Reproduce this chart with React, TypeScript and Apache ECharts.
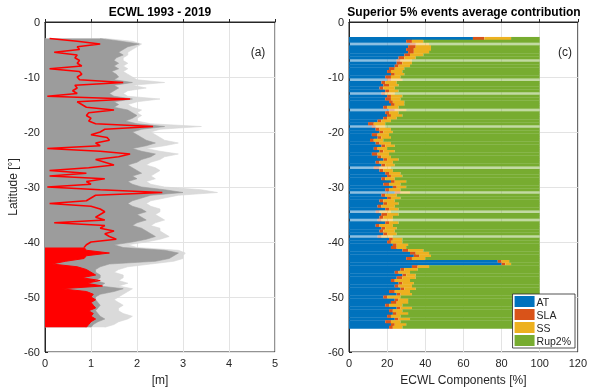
import React, { useEffect, useRef } from "react";
import * as echarts from "echarts";

// Latitude grid of the samples (degrees), from -3 down to -55.5
const LAT_START = -3;
const LAT_STEP = -0.5;
const SAMPLE_COUNT = 106;
const latitudes: number[] = Array.from({ length: SAMPLE_COUNT }, (_, k) => LAT_START + LAT_STEP * k);

// ECWL extremes [m] (light gray tails)
const ecwlTail = [
  1.3, 1.9, 2.1, 2.0, 1.9, 1.8, 1.8, 1.7, 1.7, 1.8,
  1.7, 1.8, 1.7, 1.8, 1.9, 2.0, 2.6, 1.9, 2.2, 1.8,
  1.7, 1.8, 2.5, 2.0, 1.8, 1.9, 2.1, 2.0, 2.1, 2.0,
  2.0, 2.3, 3.4, 2.5, 2.3, 2.4, 2.5, 2.6, 2.9, 2.6,
  2.2, 2.5, 2.9, 2.6, 2.5, 2.3, 2.2, 2.4, 2.5, 2.4,
  2.3, 2.4, 2.2, 2.3, 2.6, 3.4, 3.75, 2.9, 2.6, 2.3,
  2.2, 2.3, 2.5, 2.5, 2.4, 2.5, 2.6, 2.4, 2.3, 2.5,
  2.5, 2.6, 2.7, 2.5, 2.2, 1.8, 2.0, 2.9, 3.05, 3.0,
  3.0, 2.8, 2.3, 1.8, 1.6, 1.5, 1.7, 1.7, 1.6, 1.8,
  1.6, 1.9, 1.8, 1.7, 1.6, 1.5, 1.6, 1.7, 1.6, 1.6,
  1.7, 1.9, 1.8, 1.6, 1.5, 1.3,
];

// ECWL main envelope [m] (dark gray)
const ecwlMax = [
  1.2, 1.65, 2.05, 1.8, 1.7, 1.6, 1.7, 1.55, 1.5, 1.6,
  1.5, 1.6, 1.45, 1.55, 1.6, 1.5, 1.9, 1.5, 1.6, 1.5,
  1.4, 1.5, 1.9, 1.5, 1.6, 1.5, 1.8, 1.9, 2.0, 1.9,
  1.75, 2.0, 2.6, 2.1, 1.9, 2.0, 2.1, 2.2, 2.4, 2.2,
  1.9, 2.1, 2.4, 2.3, 2.1, 2.0, 1.8, 1.9, 2.0, 2.1,
  1.9, 2.0, 1.8, 1.9, 2.1, 2.6, 3.0, 2.3, 2.1, 1.9,
  1.8, 1.9, 2.1, 2.2, 2.0, 2.1, 2.2, 2.0, 1.9, 2.1,
  2.2, 2.3, 2.4, 2.2, 1.9, 1.5, 1.7, 2.6, 2.9, 2.8,
  2.7, 2.4, 1.4, 1.2, 1.1, 1.1, 1.2, 1.2, 1.1, 1.3,
  1.2, 1.7, 1.5, 1.2, 1.1, 1.1, 1.15, 1.2, 1.15, 1.1,
  1.15, 1.2, 1.3, 1.15, 1.05, 1.0,
];

// ECWL mean [m] (red)
const ecwlMean = [
  0.1, 0.7, 1.2, 0.7, 0.75, 0.2, 0.7, 0.65, 0.75, 0.7,
  0.8, 0.1, 0.75, 0.8, 0.7, 0.75, 1.7, 0.65, 0.7, 0.6,
  0.7, 0.05, 1.85, 0.7, 0.8, 0.9, 1.5, 0.95, 0.9, 1.0,
  0.95, 1.1, 2.35, 1.3, 1.2, 1.0, 1.35, 1.4, 1.1, 1.2,
  0.05, 1.2, 1.85, 1.6, 1.1, 1.3, 1.5, 0.95, 0.1, 0.9,
  0.1, 1.3, 0.9, 1.0, 0.05, 1.2, 2.55, 1.1, 1.0, 0.9,
  0.1, 1.0, 1.2, 1.3, 1.2, 1.1, 1.3, 0.2, 1.3, 1.2,
  1.5, 1.3, 1.4, 1.55, 1.0, 0.9, 0.85, 0.9, 1.4, 0.9,
  0.85, 0.45, 0.15, 0.7, 0.9, 1.0, 1.1, 0.8, 1.2, 0.9,
  1.25, 0.35, 0.9, 1.05, 1.0, 1.1, 1.0, 1.05, 1.1, 0.95,
  1.05, 1.0, 1.1, 1.0, 0.95, 0.9,
];
const RED_FILL_FROM_LAT = -41;

// Contributions [%]
const contribAT = [
  65, 30, 32, 31, 30, 31, 29, 26, 25, 25,
  24, 21, 20, 22, 19, 20, 17, 18, 16, 19,
  17, 20, 19, 21, 22, 18, 21, 19, 20, 18,
  15, 10, 12, 14, 16, 12, 15, 11, 14, 17,
  13, 16, 12, 15, 18, 14, 17, 13, 16, 19,
  20, 17, 22, 18, 23, 19, 24, 17, 20, 16,
  18, 15, 19, 14, 17, 16, 15, 19, 14, 17,
  16, 18, 15, 21, 20, 23, 22, 28, 32, 34,
  30, 78, 80, 33, 27, 24, 28, 25, 22, 26,
  24, 27, 21, 25, 18, 24, 22, 19, 25, 21,
  23, 20, 24, 19, 22, 21,
];
const contribSLA = [
  6, 3, 3, 4, 4, 3, 3, 3, 2, 3,
  2, 3, 2, 2, 3, 2, 2, 3, 2, 2,
  2, 2, 3, 2, 2, 2, 3, 2, 2, 2,
  2, 3, 2, 2, 2, 3, 2, 2, 2, 2,
  2, 2, 3, 2, 2, 2, 2, 3, 2, 2,
  2, 2, 2, 3, 2, 2, 3, 2, 2, 2,
  2, 2, 2, 2, 3, 2, 2, 2, 2, 2,
  2, 2, 2, 2, 2, 2, 3, 3, 3, 3,
  3, 2, 2, 3, 2, 2, 2, 3, 2, 2,
  2, 2, 3, 2, 2, 2, 3, 2, 2, 2,
  2, 2, 2, 3, 2, 2,
];
const contribSS = [
  14, 6, 7, 8, 9, 8, 7, 6, 6, 5,
  6, 5, 6, 5, 5, 6, 6, 5, 6, 5,
  5, 6, 5, 6, 5, 6, 6, 5, 6, 5,
  5, 6, 5, 6, 5, 6, 5, 5, 6, 5,
  5, 6, 6, 5, 6, 7, 5, 6, 5, 6,
  6, 5, 6, 6, 5, 6, 5, 6, 5, 6,
  6, 7, 5, 6, 6, 5, 6, 5, 7, 6,
  6, 5, 6, 5, 6, 6, 5, 8, 7, 6,
  7, 4, 3, 6, 7, 6, 5, 7, 8, 6,
  7, 6, 8, 6, 7, 5, 6, 7, 6, 5,
  6, 5, 6, 5, 6, 5,
];
const contribRup = [
  15, 61, 58, 57, 57, 58, 61, 65, 67, 67,
  68, 71, 72, 71, 73, 72, 75, 74, 76, 74,
  76, 72, 73, 71, 71, 74, 70, 74, 72, 75,
  78, 81, 81, 78, 77, 79, 78, 82, 78, 76,
  80, 76, 79, 78, 74, 77, 76, 78, 77, 73,
  72, 76, 70, 73, 70, 73, 68, 75, 73, 76,
  74, 76, 74, 78, 74, 77, 77, 74, 77, 75,
  76, 75, 77, 72, 72, 69, 70, 61, 58, 57,
  60, 16, 15, 58, 64, 68, 65, 65, 68, 66,
  67, 65, 68, 67, 73, 69, 69, 72, 67, 72,
  69, 73, 68, 73, 70, 72,
];
// Latitudes drawn as pale rows in the contribution panel
const paleRows = [-4, -7, -10.5, -13, -16, -19, -26.5, -31, -34.5, -36, -39];

const FONT = "'Liberation Sans', Arial, Helvetica, sans-serif";
const TXT = "#262626";

// hidden latitude category scale, -60 .. 0 in 0.5 steps (bottom to top)
const CAT_MIN = -60;
const CAT_COUNT = 121;
const latCats = Array.from({ length: CAT_COUNT }, (_, i) => String(CAT_MIN + 0.5 * i));
const catIndex = (lat: number) => Math.round((lat - CAT_MIN) / 0.5);

function place(values: number[], keep?: (lat: number) => boolean, pale = false) {
  const out: any[] = new Array(CAT_COUNT).fill(null);
  latitudes.forEach((lat, k) => {
    if (keep && !keep(lat)) return;
    const v = values[k];
    if (pale && paleRows.some((p) => Math.abs(p - lat) < 1e-6)) {
      out[catIndex(lat)] = { value: v, itemStyle: { opacity: 0.45 } };
    } else {
      out[catIndex(lat)] = v;
    }
  });
  return out;
}

export default function App() {
  const ref = useRef<HTMLDivElement>(null);
  useEffect(() => {
    if (!ref.current) return;
    const chart = echarts.init(ref.current, undefined, { renderer: "svg" });
    const axisLabel = { color: TXT, fontSize: 11, fontFamily: FONT };
    const axisLine = { show: true, lineStyle: { color: TXT, width: 1 } };
    const splitLine = { show: true, lineStyle: { color: "#e3e3e3", width: 1 } };
    const axisTick = { show: true, inside: true, length: 3, lineStyle: { color: TXT } };
    const nameStyle = { color: TXT, fontSize: 12, fontFamily: FONT };
    const barCommon = {
      type: "bar" as const,
      stack: "contrib",
      xAxisIndex: 1,
      yAxisIndex: 2,
      barWidth: 3.1,
      barCategoryGap: "0%",
    };
    chart.setOption({
      animation: false,
      grid: [
        { left: 45, right: 315, top: 22, bottom: 38, show: true, borderColor: TXT, borderWidth: 1, backgroundColor: "transparent" },
        { left: 349, right: 11, top: 22, bottom: 38, show: true, borderColor: TXT, borderWidth: 1, backgroundColor: "transparent" },
      ],
      xAxis: [
        {
          gridIndex: 0, type: "value", min: 0, max: 5, interval: 1, position: "bottom",
          name: "[m]", nameLocation: "middle", nameGap: 22, nameTextStyle: nameStyle,
          axisLabel: { ...axisLabel, margin: 5 }, axisLine, splitLine, axisTick,
        },
        {
          gridIndex: 1, type: "value", min: 0, max: 120, interval: 20, position: "bottom",
          name: "ECWL Components [%]", nameLocation: "middle", nameGap: 22, nameTextStyle: nameStyle,
          axisLabel: { ...axisLabel, margin: 5 }, axisLine, splitLine, axisTick,
        },
      ],
      yAxis: [
        { gridIndex: 0, type: "category", data: latCats, boundaryGap: false, show: false, position: "right" },
        {
          gridIndex: 0, type: "value", min: -60, max: 0, interval: 10, position: "left",
          name: "Latitude [°]", nameLocation: "middle", nameGap: 26, nameTextStyle: nameStyle,
          axisLabel: { ...axisLabel, margin: 5 }, axisLine, splitLine, axisTick,
        },
        { gridIndex: 1, type: "category", data: latCats, boundaryGap: false, show: false, position: "right" },
        {
          gridIndex: 1, type: "value", min: -60, max: 0, interval: 10, position: "left",
          axisLabel: { ...axisLabel, margin: 5 }, axisLine, splitLine, axisTick,
        },
      ],
      legend: {
        data: ["AT", "SLA", "SS", "Rup2%"],
        orient: "vertical",
        right: 15,
        bottom: 43,
        icon: "rect",
        itemWidth: 20,
        itemHeight: 11,
        itemGap: 2,
        padding: [2, 4, 2, 2],
        borderColor: TXT,
        borderWidth: 0.8,
        borderRadius: 0,
        backgroundColor: "#ffffff",
        selectedMode: false,
        textStyle: { color: TXT, fontSize: 10.5, fontFamily: FONT, padding: [0, 0, 0, -3] },
      },
      graphic: [
        { type: "text", x: 160, y: 12, style: { text: "ECWL 1993 - 2019", font: `bold 12px ${FONT}`, fill: "#000", textAlign: "center", textVerticalAlign: "middle" } },
        { type: "text", x: 464, y: 12, style: { text: "Superior 5% events average contribution", font: `bold 12px ${FONT}`, fill: "#000", textAlign: "center", textVerticalAlign: "middle" } },
        { type: "text", x: 258, y: 52, style: { text: "(a)", font: `12px ${FONT}`, fill: TXT, textAlign: "center", textVerticalAlign: "middle" } },
        { type: "text", x: 565, y: 52, style: { text: "(c)", font: `12px ${FONT}`, fill: TXT, textAlign: "center", textVerticalAlign: "middle" } },
      ],
      series: [
        {
          name: "tail", type: "line", xAxisIndex: 0, yAxisIndex: 0, data: place(ecwlTail),
          symbol: "none", lineStyle: { color: "#d6d6d6", width: 0.6 }, areaStyle: { color: "#dadada", opacity: 1 },
          silent: true,
        },
        {
          name: "max", type: "line", xAxisIndex: 0, yAxisIndex: 0, data: place(ecwlMax),
          symbol: "none", lineStyle: { color: "#9c9c9c", width: 0.6 }, areaStyle: { color: "#9c9c9c", opacity: 1 },
          silent: true,
        },
        {
          name: "meanFill", type: "line", xAxisIndex: 0, yAxisIndex: 0,
          data: place(ecwlMean, (lat) => lat <= RED_FILL_FROM_LAT),
          symbol: "none", lineStyle: { color: "#ff0000", width: 1 }, areaStyle: { color: "#ff0000", opacity: 1 },
          silent: true,
        },
        {
          name: "mean", type: "line", xAxisIndex: 0, yAxisIndex: 0,
          data: place(ecwlMean, (lat) => lat >= RED_FILL_FROM_LAT),
          symbol: "none", lineStyle: { color: "#ff0000", width: 1.6 },
          silent: true,
        },
        { ...barCommon, name: "AT", data: place(contribAT, undefined, true), itemStyle: { color: "#0072BD" } },
        { ...barCommon, name: "SLA", data: place(contribSLA, undefined, true), itemStyle: { color: "#D95319" } },
        { ...barCommon, name: "SS", data: place(contribSS, undefined, true), itemStyle: { color: "#EDB120" } },
        { ...barCommon, name: "Rup2%", data: place(contribRup, undefined, true), itemStyle: { color: "#77AC30" } },
      ],
    });
    return () => chart.dispose();
  }, []);
  return <div ref={ref} style={{ position: "fixed", left: 0, top: 0, width: 590, height: 391 }} />;
}
